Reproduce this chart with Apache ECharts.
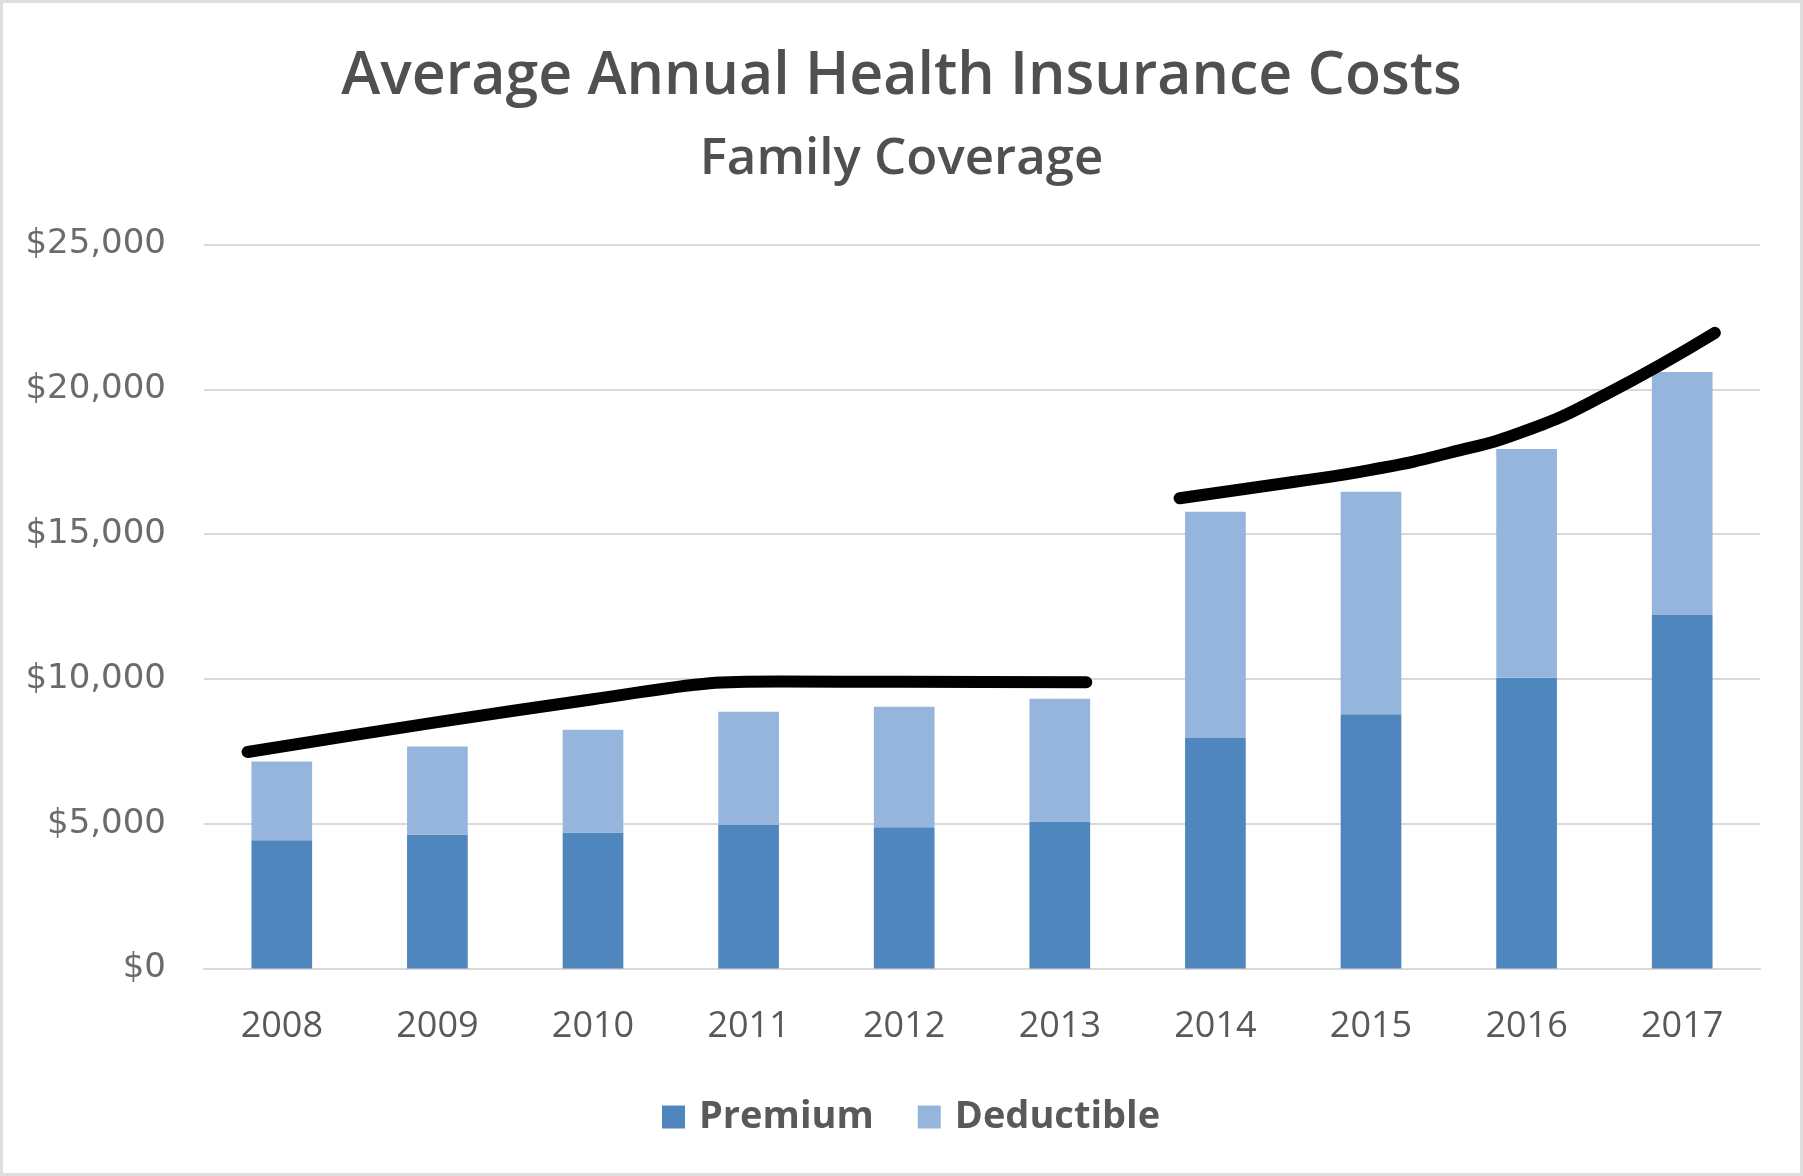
<!DOCTYPE html>
<html>
<head>
<meta charset="utf-8">
<script src="https://cdn.jsdelivr.net/npm/echarts@6/dist/echarts.min.js"></script>
<style>
html,body{margin:0;padding:0;background:#fff;}
#main{width:1803px;height:1176px;box-sizing:border-box;border:3px solid #dedede;}
</style>
</head>
<body>
<div id="main"></div>
<script>
const years = ['2008','2009','2010','2011','2012','2013','2014','2015','2016','2017'];
const premium = [4430, 4620, 4700, 4960, 4880, 5080, 7960, 8780, 10040, 12210];
const deductible = [2720, 3050, 3550, 3910, 4160, 4240, 7810, 7680, 7900, 8390];
const yTicks = [0, 5000, 10000, 15000, 20000, 25000];
// hand-drawn trend strokes: [category position, value]
const trendA = [[-0.22, 7480], [1, 8510], [2, 9300], [2.75, 9850], [3.2, 9910], [4, 9900], [5.17, 9890]];
const trendB = [[5.77, 16240], [6.5, 16800], [7, 17220], [7.5, 17800], [8, 18580], [8.5, 19800], [9.21, 21950]];

const chart = echarts.init(document.getElementById('main'));
const gray = '#595959';
chart.setOption({
  animation: false,
  backgroundColor: '#fff',
  title: [
    { text: 'Average Annual Health Insurance Costs', left: 'center', top: 40,
      textStyle: { fontFamily: 'Open Sans', fontWeight: 600, fontSize: 59, color: '#505050' } },
    { text: 'Family Coverage', left: 'center', top: 126,
      textStyle: { fontFamily: 'Open Sans', fontWeight: 600, fontSize: 51, color: '#505050' } }
  ],
  legend: {
    data: ['Premium', 'Deductible'],
    left: 654, top: 1090,
    itemWidth: 23, itemHeight: 23, itemGap: 44,
    icon: 'rect',
    textStyle: { fontFamily: 'Open Sans', fontWeight: 700, fontSize: 38, color: gray, padding: [0, 0, 0, 9] }
  },
  grid: { left: 201, right: 40, top: 241.5, bottom: 204.4, containLabel: false },
  xAxis: [
    { type: 'category', data: years,
      axisLine: { show: true, lineStyle: { color: '#d9d9d9', width: 2 } },
      axisTick: { show: false },
      axisLabel: { fontFamily: 'Open Sans', fontSize: 36, color: gray, margin: 40 } },
    { type: 'value', min: -0.5, max: 9.5, show: false }
  ],
  yAxis: {
    type: 'value', min: yTicks[0], max: yTicks[yTicks.length - 1], interval: 5000,
    axisLine: { show: false }, axisTick: { show: false },
    splitLine: { lineStyle: { color: '#d9d9d9', width: 2 } },
    axisLabel: { fontFamily: 'DejaVu Sans', fontSize: 34, color: '#6b6b6b', margin: 38,
      formatter: v => '$' + v.toLocaleString('en-US') }
  },
  series: [
    { name: 'Premium', type: 'bar', stack: 'cost', data: premium, barWidth: '39%',
      itemStyle: { color: '#4e86bd' } },
    { name: 'Deductible', type: 'bar', stack: 'cost', data: deductible, barWidth: '39%',
      itemStyle: { color: '#95b5dc' } },
    { type: 'line', xAxisIndex: 1, data: trendA, smooth: 0.3, symbol: 'none',
      lineStyle: { color: '#000', width: 12, cap: 'round', join: 'round' } },
    { type: 'line', xAxisIndex: 1, data: trendB, smooth: 0.5, symbol: 'none',
      lineStyle: { color: '#000', width: 12, cap: 'round', join: 'round' } }
  ]
});
</script>
</body>
</html>
